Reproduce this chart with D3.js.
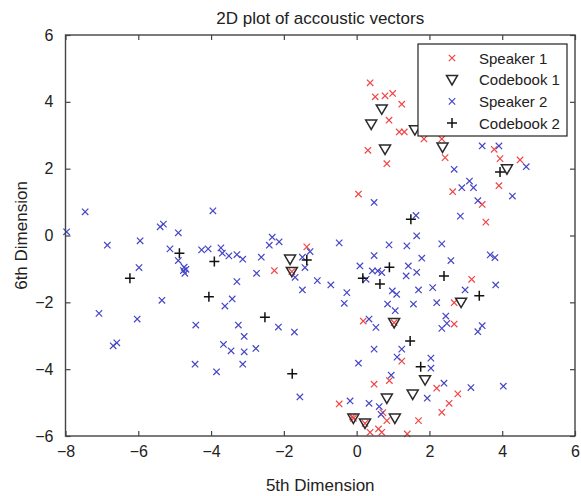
<!DOCTYPE html>
<html>
<head>
<meta charset="utf-8">
<script src="https://cdn.jsdelivr.net/npm/d3@7"></script>
<style>
  body { margin: 0; background: #fff; }
  text { font-family: "Liberation Sans", Arial, sans-serif; fill: #222; }
</style>
</head>
<body>
<svg id="vis"></svg>
<script>
// datos
const xTicks = [-8, -6, -4, -2, 0, 2, 4, 6];
const yTicks = [-6, -4, -2, 0, 2, 4, 6];

const speaker1X = [0.37, 0.51, 0.78, 0.99, 1.24, 0.89, 1.17, 1.31, 1.85, 2.34, 0.31, 0.83, 2.43, 3.78, 3.94, 4.49, 3.91, 2.64, 0.05, 3.45, 3.55, -2.26, -1.37, -1.78, 3.16, 2.68, 2.68, 0.18, 1.03, 1.24, 0.48, 0.90, 2.20, 2.78, 2.54, 2.34, -0.48, -0.11, 0.72, 0.83, 0.60, 0.69, 0.37, 1.39, 1.70, 0.23, -0.09];
const speaker1Y = [4.57, 4.15, 4.18, 4.25, 3.93, 3.45, 3.10, 3.10, 2.89, 2.89, 2.55, 2.15, 2.33, 2.58, 2.30, 2.26, 1.49, 1.31, 1.24, 0.93, 0.40, -1.05, -0.34, -1.08, -1.31, -2.01, -2.65, -2.56, -2.61, -3.76, -4.45, -4.34, -4.57, -4.74, -5.02, -5.29, -5.04, -5.42, -5.30, -5.54, -5.79, -5.89, -5.89, -5.94, -5.54, -5.62, -5.47];

const codebook1X = [0.69, 0.40, 1.60, 0.78, 2.36, 4.13, -1.83, -1.78, 2.87, 1.03, 1.88, 1.54, 0.83, 1.05, -0.09, 0.23];
const codebook1Y = [3.78, 3.33, 3.16, 2.58, 2.64, 1.99, -0.71, -1.08, -2.00, -2.61, -4.32, -4.75, -4.87, -5.47, -5.47, -5.62];

const speaker2X = [-7.46, -7.97, -5.31, -5.40, -3.95, -4.90, -6.85, -5.95, -5.13, -4.90, -4.74, -4.69, -4.76, -4.72, -5.98, -4.26, -4.08, -3.73, -3.69, -3.51, -3.29, -3.13, -2.62, -2.32, -2.40, -2.13, -2.75, -3.29, -5.35, -3.42, -3.62, -7.08, -6.03, -4.42, -3.25, -3.09, -2.15, -1.71, -6.69, -6.59, -3.66, -3.45, -3.09, -2.77, -4.44, -3.85, -3.13, -1.49, -1.69, -1.49, -1.42, -1.56,
  3.45, 3.91, 4.66, 2.68, 3.10, 2.89, 3.21, 3.33, 4.28, 0.48, 1.63, 2.85, 1.65,
  -0.48, 0.89, 1.38, 2.34, 0.48, 1.79, 2.59, 3.67, 3.80, -1.28, 0.09, 0.43, 0.58, 0.69, 1.42, 1.65, 1.36, 0.26, -1.08, -0.71, -0.27, -0.34, 0.98, 1.10, 1.70, 2.09, 2.98, 3.82, 0.85, 1.06, 1.56, 2.20, 2.45, 2.48, 2.34, 0.34, 0.53, 3.45, 3.33, 0.48, 1.24, 1.11, 0.05, 2.04, 2.04, 0.95, 2.40, 3.14, 4.03, 1.94, -0.18, 0.34, 0.62, 0.67];
const speaker2Y = [0.71, 0.11, 0.34, 0.26, 0.74, 0.08, -0.29, -0.16, -0.40, -0.75, -0.95, -1.01, -1.05, -1.13, -0.96, -0.43, -0.40, -0.37, -0.53, -0.61, -0.57, -0.71, -0.65, -0.05, -0.29, -0.19, -1.13, -1.38, -1.94, -1.90, -2.11, -2.33, -2.50, -2.68, -2.68, -3.02, -2.74, -2.89, -3.30, -3.21, -3.26, -3.45, -3.48, -3.38, -3.85, -4.08, -3.85, -1.63, -1.25, -0.65, -0.96, -4.83,
  2.68, 2.68, 2.06, 1.98, 1.63, 1.43, 1.43, 1.04, 1.18, 0.99, 0.60, 0.58, -0.01,
  -0.22, -0.28, -0.31, -0.25, -0.60, -0.68, -0.75, -0.58, -0.66, -0.48, -0.91, -1.06, -1.06, -1.11, -0.91, -1.10, -1.21, -1.31, -1.35, -1.48, -1.71, -2.03, -1.66, -1.76, -1.63, -1.56, -1.63, -1.48, -2.05, -2.25, -2.05, -2.01, -2.41, -2.63, -2.78, -2.50, -2.75, -2.70, -2.88, -3.40, -3.40, -3.64, -3.82, -3.67, -3.97, -4.18, -4.42, -4.55, -4.51, -4.87, -4.95, -5.02, -5.12, -5.35];

const codebook2X = [-4.87, -3.91, -6.23, -4.06, -2.52, -1.77, -1.37, 0.17, 0.90, 0.64, 2.40, 3.37, 1.47, 1.76, 3.94, 1.49];
const codebook2Y = [-0.53, -0.78, -1.28, -1.83, -2.45, -4.14, -0.73, -1.28, -0.95, -1.45, -1.21, -1.80, -3.16, -3.93, 1.90, 0.49];

const legendLabels = ["Speaker 1", "Codebook 1", "Speaker 2", "Codebook 2"];

const WIDTH = 581;
const HEIGHT = 496;
const MARGIN = { top: 35, bottom: 60, left: 65.5, right: 6 };

const svg = d3.select("#vis")
    .attr("width", WIDTH)
    .attr("height", HEIGHT);

const escalaX = d3.scaleLinear().domain([-8, 6]).range([MARGIN.left, WIDTH - MARGIN.right]);
const escalaY = d3.scaleLinear().domain([-6, 6]).range([HEIGHT - MARGIN.bottom, MARGIN.top]);

const juntar = (xs, ys) => xs.map((x, i) => ({ x: x, y: ys[i] }));

// formas de los marcadores
const formas = {
    x: "M-3.2,-3.2L3.2,3.2M-3.2,3.2L3.2,-3.2",
    tri: "M-5.5,-4.2L5.5,-4.2L0,5.2Z",
    plus: "M-5,0L5,0M0,-5L0,5"
};
const series = [
    { datos: juntar(speaker1X, speaker1Y), forma: formas.x, color: "#f04545", ancho: 1.2 },
    { datos: juntar(codebook1X, codebook1Y), forma: formas.tri, color: "#2a2a2a", ancho: 1.5 },
    { datos: juntar(speaker2X, speaker2Y), forma: formas.x, color: "#4545c8", ancho: 1.2 },
    { datos: juntar(codebook2X, codebook2Y), forma: formas.plus, color: "#111", ancho: 1.5 }
];

// Ejes con ticks hacia adentro
const ejes = svg.append("g");
ejes.append("g")
    .attr("transform", `translate(0, ${escalaY(-6)})`)
    .call(d3.axisBottom(escalaX).tickValues(xTicks).tickSize(-5).tickSizeOuter(0).tickPadding(10));
ejes.append("g")
    .attr("transform", `translate(0, ${escalaY(6)})`)
    .call(d3.axisTop(escalaX).tickValues(xTicks).tickSize(-5).tickSizeOuter(0).tickFormat(""));
ejes.append("g")
    .attr("transform", `translate(${escalaX(-8)}, 0)`)
    .call(d3.axisLeft(escalaY).tickValues(yTicks).tickSize(-5).tickSizeOuter(0).tickPadding(12));
ejes.append("g")
    .attr("transform", `translate(${escalaX(6)}, 0)`)
    .call(d3.axisRight(escalaY).tickValues(yTicks).tickSize(-5).tickSizeOuter(0).tickFormat(""));

ejes.selectAll(".domain").remove();
ejes.selectAll(".tick line").attr("stroke", "#444").attr("stroke-width", 1.2);
ejes.selectAll(".tick text")
    .attr("font-size", 16)
    .attr("font-family", "Liberation Sans, Arial, sans-serif")
    .attr("fill", "#222");

// Puntos
series.forEach(s => {
    svg.append("g")
        .selectAll("path")
        .data(s.datos)
        .join("path")
        .attr("d", s.forma)
        .attr("transform", d => `translate(${escalaX(d.x)}, ${escalaY(d.y)})`)
        .attr("fill", "none")
        .attr("stroke", s.color)
        .attr("stroke-width", s.ancho);
});

// Caja del grafico
svg.append("rect")
    .attr("x", escalaX(-8))
    .attr("y", escalaY(6))
    .attr("width", escalaX(6) - escalaX(-8))
    .attr("height", escalaY(-6) - escalaY(6))
    .attr("fill", "none")
    .attr("stroke", "#444")
    .attr("stroke-width", 1.4);

// Leyenda
const leyenda = svg.append("g").attr("transform", "translate(418, 44)");
leyenda.append("rect")
    .attr("width", 149)
    .attr("height", 92)
    .attr("fill", "#fff")
    .attr("stroke", "#222")
    .attr("stroke-width", 1.2);
legendLabels.forEach((lab, i) => {
    const fila = leyenda.append("g").attr("transform", `translate(0, ${14 + i * 21.7})`);
    fila.append("path")
        .attr("d", series[i].forma)
        .attr("transform", "translate(34, 0)")
        .attr("fill", "none")
        .attr("stroke", series[i].color)
        .attr("stroke-width", series[i].ancho);
    fila.append("text")
        .attr("x", 61)
        .attr("y", 5.5)
        .attr("font-size", 15)
        .text(lab);
});

// Titulo y nombres de ejes
svg.append("text")
    .attr("x", (escalaX(-8) + escalaX(6)) / 2)
    .attr("y", 24)
    .attr("text-anchor", "middle")
    .attr("font-size", 17)
    .text("2D plot of accoustic vectors");

svg.append("text")
    .attr("x", (escalaX(-8) + escalaX(6)) / 2)
    .attr("y", 491)
    .attr("text-anchor", "middle")
    .attr("font-size", 17)
    .text("5th Dimension");

svg.append("text")
    .attr("transform", `translate(27, ${(escalaY(-6) + escalaY(6)) / 2}) rotate(-90)`)
    .attr("text-anchor", "middle")
    .attr("font-size", 17)
    .text("6th Dimension");
</script>
</body>
</html>
